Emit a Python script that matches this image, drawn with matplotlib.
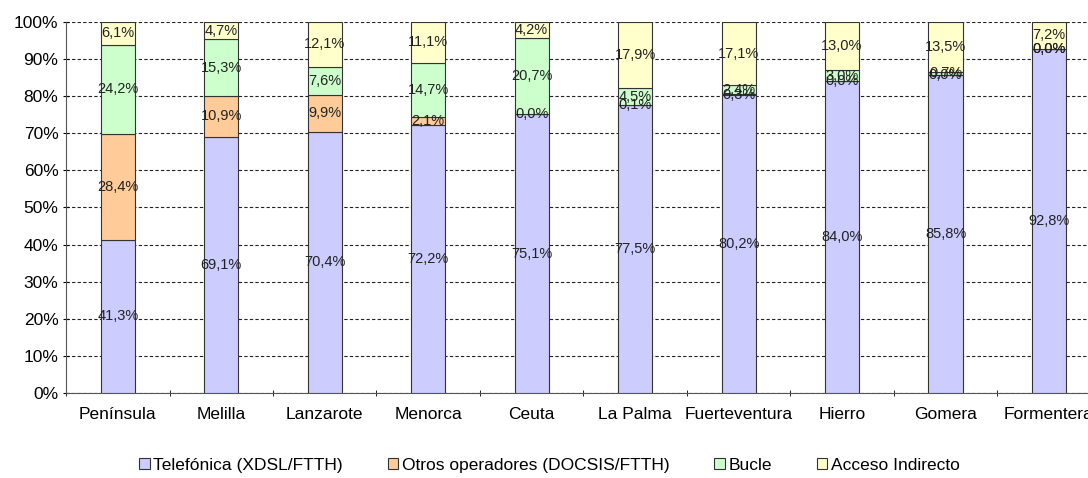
import matplotlib.pyplot as plt
import numpy as np
from matplotlib.patches import Patch

plt.rcParams['font.family'] = ['Liberation Sans', 'DejaVu Sans']

# Data (percent)
categories = ['Península', 'Melilla', 'Lanzarote', 'Menorca', 'Ceuta',
              'La Palma', 'Fuerteventura', 'Hierro', 'Gomera', 'Formentera']
telefonica = [41.3, 69.1, 70.4, 72.2, 75.1, 77.5, 80.2, 84.0, 85.8, 92.8]
otros = [28.4, 10.9, 9.9, 2.1, 0.0, 0.1, 0.3, 0.0, 0.0, 0.0]
bucle = [24.2, 15.3, 7.6, 14.7, 20.7, 4.5, 2.4, 3.0, 0.7, 0.0]
indirecto = [6.1, 4.7, 12.1, 11.1, 4.2, 17.9, 17.1, 13.0, 13.5, 7.2]

series_names = ['Telefónica (XDSL/FTTH)', 'Otros operadores (DOCSIS/FTTH)',
                'Bucle', 'Acceso Indirecto']
colors = ['#CCCCFF', '#FFCC99', '#CCFFCC', '#FFFFCC']

fig = plt.figure(figsize=(10.88, 4.78), dpi=100)
ax = fig.add_axes([0.0607, 0.178, 0.951, 0.776])

x = np.arange(len(categories))
bottom = np.zeros(len(categories))
for vals, col in zip([telefonica, otros, bucle, indirecto], colors):
    vals = np.array(vals)
    ax.bar(x, vals, 0.33, bottom=bottom, color=col, edgecolor='#333333',
           linewidth=0.8, zorder=3)
    for xi, b, v in zip(x, bottom, vals):
        ax.text(xi, b + v / 2, f'{v:.1f}%'.replace('.', ','),
                ha='center', va='center', fontsize=10.5, color='#222222', zorder=4)
    bottom += vals

ax.set_xlim(-0.5, len(categories) - 0.5)
ax.set_ylim(0, 100)
ax.set_yticks(np.arange(0, 101, 10))
ax.set_yticklabels([f'{v}%' for v in range(0, 101, 10)], fontsize=12.5)
ax.set_xticks(x)
ax.set_xticklabels(categories, fontsize=12.5)
ax.set_xticks(np.arange(-0.5, len(categories), 1), minor=True)
ax.tick_params(axis='x', which='major', length=0, pad=10)
ax.tick_params(axis='x', which='minor', length=5, direction='inout')
ax.tick_params(axis='y', length=5, direction='inout', pad=3)
ax.yaxis.grid(True, linestyle=(0, (3, 2)), color='#222222', linewidth=0.8, zorder=0)
for s in ['top', 'right']:
    ax.spines[s].set_visible(False)
ax.spines['left'].set_color('#555555')
ax.spines['bottom'].set_color('#555555')

handles = [Patch(facecolor=c, edgecolor='#333333', linewidth=0.8) for c in colors]
fig.legend(handles, series_names, loc='lower center', bbox_to_anchor=(0.505, -0.022),
           ncol=4, frameon=False, fontsize=12.5, handlelength=0.6, handleheight=0.6,
           handletextpad=0.2, columnspacing=2.6)

fig.savefig('out.png', dpi=100)
